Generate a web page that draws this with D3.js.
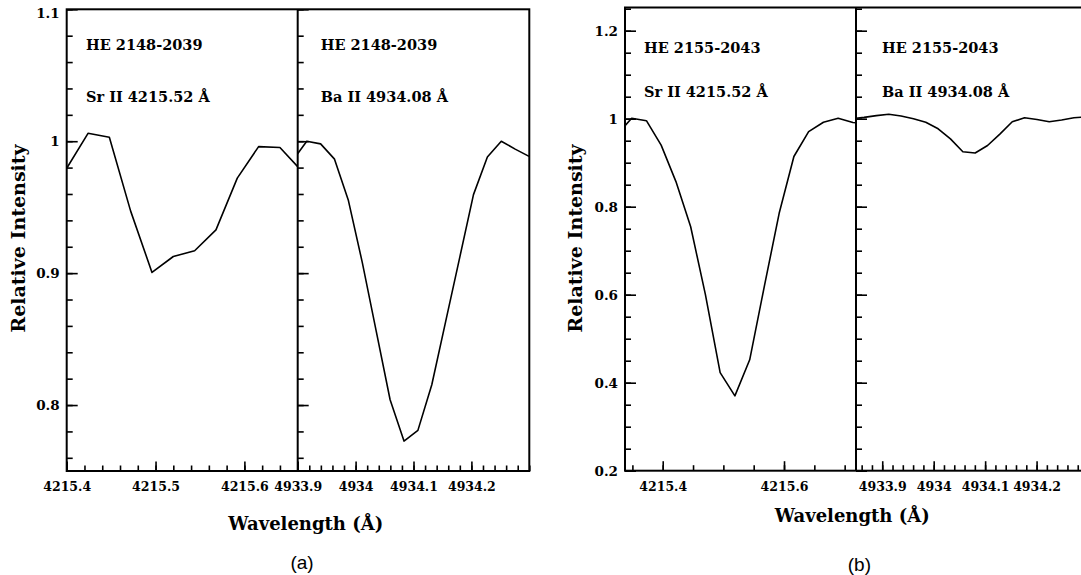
<!DOCTYPE html>
<html>
<head>
<meta charset="utf-8">
<script src="https://cdn.jsdelivr.net/npm/d3@7"></script>
<style>
body { margin: 0; background: #fff; }
text { font-family: "DejaVu Serif", serif; font-weight: bold; fill: #000; }
text.caption { font-family: "Liberation Sans", Arial, sans-serif; font-weight: normal; }
</style>
</head>
<body>
<script>
const width = 1081, height = 575;

// (a) HE 2148-2039
const srA_wave = [4215.400, 4215.424, 4215.448, 4215.472, 4215.496, 4215.520, 4215.544, 4215.568, 4215.592, 4215.616, 4215.640, 4215.664];
const srA_flux = [0.9795, 1.006, 1.003, 0.947, 0.9005, 0.9126, 0.917, 0.9328, 0.972, 0.9959, 0.9952, 0.9778];
const baA_wave = [4933.8916, 4933.9156, 4933.9396, 4933.9636, 4933.9876, 4934.0116, 4934.0356, 4934.0596, 4934.0836,
                  4934.1076, 4934.1316, 4934.1556, 4934.1796, 4934.2036, 4934.2276, 4934.2516, 4934.2756, 4934.2996];
const baA_flux = [0.9854, 1.000, 0.998, 0.9864, 0.955, 0.908, 0.856, 0.804, 0.7727,
                  0.7808, 0.8154, 0.8634, 0.9114, 0.9595, 0.988, 1.000, 0.994, 0.9885];

// (b) HE 2155-2043
const srB_wave = [4215.3245, 4215.3488, 4215.3731, 4215.3974, 4215.4218, 4215.4461, 4215.4704, 4215.4947, 4215.5190,
                  4215.5434, 4215.5677, 4215.5920, 4215.6163, 4215.6406, 4215.6650, 4215.6893, 4215.7136, 4215.7379];
const srB_flux = [0.963, 1.001, 0.9955, 0.940, 0.857, 0.7545, 0.600, 0.423, 0.370,
                  0.452, 0.620, 0.785, 0.914, 0.9705, 0.992, 1.001, 0.9915, 0.988];
const baB_wave = [4933.8406, 4933.8647, 4933.8886, 4933.9127, 4933.9366, 4933.9607, 4933.9846, 4934.0087, 4934.0326, 4934.0567,
                  4934.0806, 4934.1047, 4934.1286, 4934.1527, 4934.1766, 4934.2007, 4934.2246, 4934.2487, 4934.2726, 4934.2967];
const baB_flux = [1.000, 1.003, 1.007, 1.010, 1.006, 1.000, 0.992, 0.977, 0.954, 0.925,
                  0.922, 0.939, 0.965, 0.993, 1.002, 0.998, 0.993, 0.997, 1.002, 1.004];

// tick labels
const yTicksA = [0.8, 0.9, 1, 1.1];
const yTicksB = [0.2, 0.4, 0.6, 0.8, 1, 1.2];
const srA_xTicks = [4215.4, 4215.5, 4215.6];
const baA_xTicks = [4933.9, 4934, 4934.1, 4934.2];
const srB_xTicks = [4215.4, 4215.6];
const baB_xTicks = [4933.9, 4934, 4934.1, 4934.2];

const svg = d3.select("body").append("svg")
  .attr("width", width)
  .attr("height", height);

const figA = {
  left: 66.7, mid: 297.7, right: 529.3, top: 9.3, bottom: 471,
  yDomain: [0.75, 1.1], yMajor: yTicksA, yMinorStep: 0.02,
  star: "HE 2148-2039", textY: [50, 101.5],
  xLabel: [305.8, 530], yLabel: [25, 238.5], caption: [302, 569, "(a)"],
  panels: [
    { domain: [4215.4, 4215.66], wave: srA_wave, flux: srA_flux, major: srA_xTicks, minorStep: 0.02, ion: "Sr II 4215.52 Å", textX: 86 },
    { domain: [4933.9, 4934.3], wave: baA_wave, flux: baA_flux, major: baA_xTicks, minorStep: 0.02, ion: "Ba II 4934.08 Å", textX: 320.7 }
  ]
};

const figB = {
  left: 625, mid: 856, right: 1087, top: 7.5, bottom: 470.7,
  yDomain: [0.2, 1.2527], yMajor: yTicksB, yMinorStep: 0.05,
  star: "HE 2155-2043", textY: [53.3, 97.3],
  xLabel: [852.3, 521.7], yLabel: [582, 238.5], caption: [859.4, 570.5, "(b)"],
  panels: [
    { domain: [4215.3378, 4215.7187], wave: srB_wave, flux: srB_flux, major: srB_xTicks, minorStep: 0.05, ion: "Sr II 4215.52 Å", textX: 644 },
    { domain: [4933.849, 4934.298], wave: baB_wave, flux: baB_flux, major: baB_xTicks, minorStep: 0.02, ion: "Ba II 4934.08 Å", textX: 882 }
  ]
};

function minorTicks(domain, step) {
  const lo = Math.ceil(domain[0] / step - 1e-6), hi = Math.floor(domain[1] / step + 1e-6);
  return d3.range(lo, hi + 1).map(k => +(k * step).toFixed(4));
}

function drawFigure(fig, id) {
  const g = svg.append("g");
  const y = d3.scaleLinear().domain(fig.yDomain).range([fig.bottom, fig.top]);

  fig.panels.forEach((p, i) => {
    const x0 = i === 0 ? fig.left : fig.mid;
    const x1 = i === 0 ? fig.mid : fig.right;
    const x = d3.scaleLinear().domain(p.domain).range([x0, x1]);
    const clipId = `clip-${id}-${i}`;

    svg.append("clipPath").attr("id", clipId)
      .append("rect")
      .attr("x", x0).attr("y", fig.top)
      .attr("width", x1 - x0).attr("height", fig.bottom - fig.top);

    // x ticks, minor then major with labels
    g.append("g")
      .attr("transform", `translate(0,${fig.bottom})`)
      .call(d3.axisBottom(x).tickValues(minorTicks(p.domain, p.minorStep)).tickSize(-5.5).tickFormat(""))
      .call(a => a.select(".domain").remove())
      .call(a => a.selectAll("line").attr("stroke-width", 1.6));

    g.append("g")
      .attr("transform", `translate(0,${fig.bottom})`)
      .call(d3.axisBottom(x).tickValues(p.major).tickSize(-9.5).tickFormat(d => String(d)))
      .call(a => a.select(".domain").remove())
      .call(a => a.selectAll("line").attr("stroke-width", 1.6))
      .call(a => a.selectAll("text").attr("y", 20).attr("dy", 0).style("font-size", "12.5px"));

    // y ticks on the left edge of each sub-panel
    g.append("g")
      .attr("transform", `translate(${x0},0)`)
      .call(d3.axisLeft(y).tickValues(minorTicks(fig.yDomain, fig.yMinorStep)).tickSize(-6).tickFormat(""))
      .call(a => a.select(".domain").remove())
      .call(a => a.selectAll("line").attr("stroke-width", 1.6));

    g.append("g")
      .attr("transform", `translate(${x0},0)`)
      .call(d3.axisLeft(y).tickValues(fig.yMajor).tickSize(-11).tickPadding(7)
        .tickFormat(i === 0 ? (d => String(d)) : ""))
      .call(a => a.select(".domain").remove())
      .call(a => a.selectAll("line").attr("stroke-width", 1.6))
      .call(a => a.selectAll("text").style("font-size", "13.5px")
        .attr("dy", d => (y(d) - fig.top < 4 ? "0.62em" : "0.32em")));

    const line = d3.line()
      .x((d, k) => x(p.wave[k]))
      .y(d => y(d));

    g.append("path")
      .datum(p.flux)
      .attr("clip-path", `url(#${clipId})`)
      .attr("d", line)
      .attr("fill", "none")
      .attr("stroke", "#000")
      .attr("stroke-width", 1.6)
      .attr("stroke-linejoin", "round");

    g.append("text").attr("x", p.textX).attr("y", fig.textY[0])
      .style("font-size", "14.5px").text(fig.star);
    g.append("text").attr("x", p.textX).attr("y", fig.textY[1])
      .style("font-size", "14.5px").text(p.ion);
  });

  // frame and divider
  g.append("rect")
    .attr("x", fig.left).attr("y", fig.top)
    .attr("width", fig.right - fig.left).attr("height", fig.bottom - fig.top)
    .attr("fill", "none").attr("stroke", "#000").attr("stroke-width", 2);
  g.append("line")
    .attr("x1", fig.mid).attr("x2", fig.mid)
    .attr("y1", fig.top).attr("y2", fig.bottom)
    .attr("stroke", "#000").attr("stroke-width", 2);

  g.append("text")
    .attr("x", fig.xLabel[0]).attr("y", fig.xLabel[1])
    .attr("text-anchor", "middle")
    .style("font-size", "18px")
    .text("Wavelength (Å)");

  g.append("text")
    .attr("transform", `translate(${fig.yLabel[0]},${fig.yLabel[1]}) rotate(-90)`)
    .attr("text-anchor", "middle")
    .style("font-size", "19px")
    .text("Relative Intensity");

  g.append("text")
    .attr("class", "caption")
    .attr("x", fig.caption[0]).attr("y", fig.caption[1])
    .attr("text-anchor", "middle")
    .style("font-size", "19px")
    .text(fig.caption[2]);
}

drawFigure(figA, "a");
drawFigure(figB, "b");
</script>
</body>
</html>
